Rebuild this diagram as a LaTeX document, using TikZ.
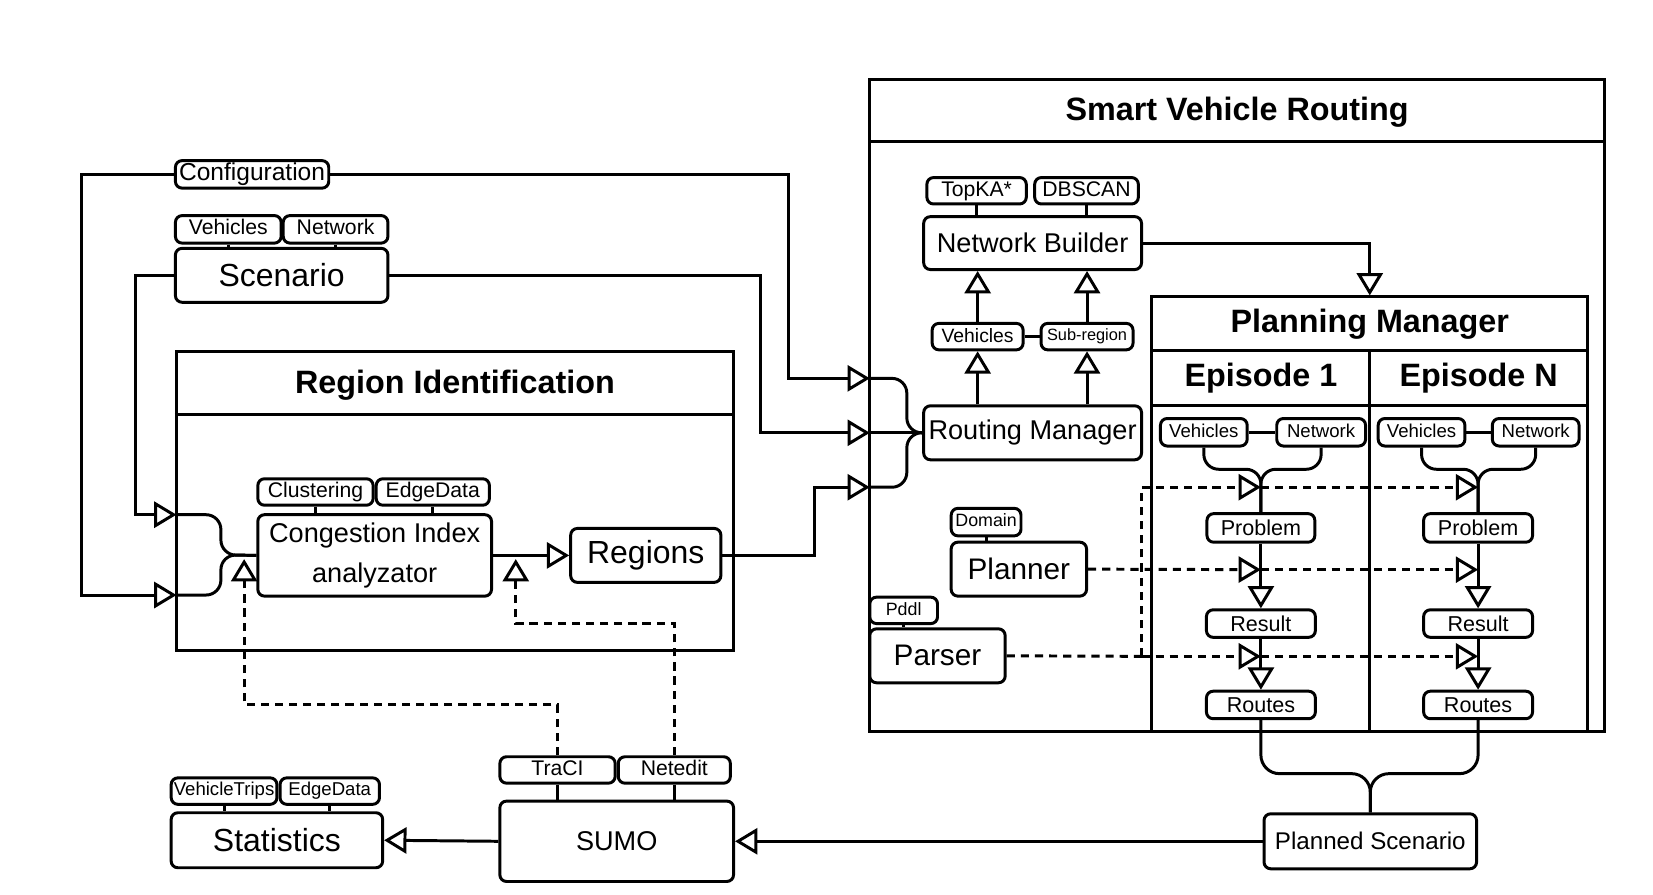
\documentclass[tikz,border=0pt]{standalone}
\usepackage{fontspec}
\setmainfont{Liberation Sans}
\usetikzlibrary{arrows.meta}

\tikzset{
    box/.style={draw, rounded corners=1.8pt, line width=0.8pt, inner sep=0pt, align=center},
    bigbox/.style={box, font=\fontsize{8.6}{10}\selectfont},
    midbox/.style={box, font=\fontsize{7.3}{10.8}\selectfont},
    tagbox/.style={box, font=\fontsize{5.7}{6}\selectfont, text height=4.1pt, text depth=1.2pt},
    smalltag/.style={box, font=\fontsize{5.0}{6}\selectfont, text height=3.6pt, text depth=1.05pt},
    frame/.style={draw, line width=0.8pt, inner sep=0pt},
    title/.style={font=\bfseries\fontsize{8.7}{10}\selectfont},
    link/.style={line width=0.8pt},
    flow/.style={line width=0.8pt, -{Triangle[open, length=6pt, width=7pt]}},
    dflow/.style={flow, dash pattern=on 2.2pt off 1.6pt},
    dlink/.style={link, dash pattern=on 2.2pt off 1.6pt}
}

\begin{document}
\begin{tikzpicture}[x=0.01cm, y=-0.01cm]
    \useasboundingbox (0,0) rectangle (1564,846);

    %% Inputs
    % Configuration
    \node[box, font=\fontsize{6.6}{7}\selectfont, minimum width=1.45cm, minimum height=0.26cm] (conf) at (238.5,165) {Configuration};

    % Scenario
    \node[bigbox, minimum width=2.01cm, minimum height=0.51cm] (scen) at (266.5,260.5) {Scenario};
    \node[tagbox, minimum width=1.00cm, minimum height=0.26cm] (scenveh) at (216,217) {Vehicles};
    \node[tagbox, minimum width=0.99cm, minimum height=0.26cm] (scennet) at (317.5,217) {Network};
    \draw[link] (scenveh.south) -- (scenveh.south |- scen.north);
    \draw[link] (scennet.south) -- (scennet.south |- scen.north);

    %% Region Identification
    \node[frame, minimum width=5.27cm, minimum height=2.82cm] (regid) at (430.5,474) {};
    \draw[link] (regid.west |- 0,392) -- (regid.east |- 0,392);
    \node[title] (regidtitle) at (430.5,364) {Region Identification};

    % Congestion Index analyzator
    \node[midbox, minimum width=2.21cm, minimum height=0.77cm] (cia) at (354.5,525.5) {Congestion Index\\analyzator};
    \node[tagbox, minimum width=1.09cm, minimum height=0.25cm] (clust) at (298.5,465.5) {Clustering};
    \node[tagbox, minimum width=1.07cm, minimum height=0.25cm] (edgedata) at (409.5,465.5) {EdgeData};
    \draw[link] (clust.south) -- (clust.south |- cia.north);
    \draw[link] (edgedata.south) -- (edgedata.south |- cia.north);

    % Regions
    \node[bigbox, minimum width=1.42cm, minimum height=0.51cm] (regions) at (611,525.5) {Regions};
    \draw[flow] (cia.east) -- (regions.west);

    % Entries of Region Identification
    \coordinate (riin1) at (167,487);
    \coordinate (riin2) at (167,563);
    \draw[flow] (conf.west) -| (77,563) -- (riin2);
    \draw[flow] (scen.west) -| (128,487) -- (riin1);
    \draw[link, rounded corners=4pt] (riin1) -- (209,487) -- (209,525) -- (cia.west);
    \draw[link, rounded corners=4pt] (riin2) -- (209,563) -- (209,525) -- (cia.west);

    %% Smart Vehicle Routing
    \node[frame, minimum width=6.95cm, minimum height=6.17cm] (svr) at (1170.5,383.5) {};
    \draw[link] (svr.west |- 0,134) -- (svr.east |- 0,134);
    \node[title] (svrtitle) at (1170.5,106) {Smart Vehicle Routing};

    % Network Builder
    \node[midbox, minimum width=2.06cm, minimum height=0.50cm] (nb) at (977,230) {Network Builder};
    \node[tagbox, minimum width=0.94cm, minimum height=0.25cm] (topka) at (924,180.5) {TopKA*};
    \node[tagbox, minimum width=0.98cm, minimum height=0.25cm] (dbscan) at (1028,180.5) {DBSCAN};
    \draw[link] (topka.south) -- (topka.south |- nb.north);
    \draw[link] (dbscan.south) -- (dbscan.south |- nb.north);

    % Vehicles and Sub-region
    \node[tagbox, font=\fontsize{5.2}{6}\selectfont, minimum width=0.86cm, minimum height=0.25cm] (rveh) at (925,318.5) {Vehicles};
    \node[tagbox, font=\fontsize{4.4}{5}\selectfont, text height=3.2pt, text depth=0.9pt, minimum width=0.87cm, minimum height=0.25cm] (subreg) at (1028.5,318.5) {Sub-region};
    \draw[link] (rveh.east) -- (subreg.west);

    % Routing Manager
    \node[midbox, minimum width=2.06cm, minimum height=0.51cm] (rm) at (977,409.5) {Routing Manager};
    \draw[flow] (rm.north -| rveh.south) -- (rveh.south);
    \draw[flow] (rm.north -| subreg.south) -- (subreg.south);
    \draw[flow] (rveh.north) -- (rveh.north |- nb.south);
    \draw[flow] (subreg.north) -- (subreg.north |- nb.south);

    % Entries of Smart Vehicle Routing
    \coordinate (rmin1) at (823,358);
    \coordinate (rmin2) at (823,409.5);
    \coordinate (rmin3) at (823,461);
    \draw[flow] (conf.east) -| (746,358) -- (rmin1);
    \draw[flow] (scen.east) -| (720,409.5) -- (rmin2);
    \draw[flow] (regions.east) -| (771,461) -- (rmin3);
    \draw[link, rounded corners=4pt] (rmin1) -- (858,358) -- (858,409.5) -- (rm.west);
    \draw[link] (rmin2) -- (rm.west);
    \draw[link, rounded corners=4pt] (rmin3) -- (858,461) -- (858,409.5) -- (rm.west);

    % Planner and Parser
    \node[box, font=\fontsize{8.0}{10}\selectfont, minimum width=1.28cm, minimum height=0.51cm] (planner) at (964,538.5) {Planner};
    \node[smalltag, font=\fontsize{4.8}{6}\selectfont, minimum width=0.66cm, minimum height=0.26cm] (domain) at (933,494) {Domain};
    \draw[link] (domain.south) -- (domain.south |- planner.north);
    \node[box, font=\fontsize{8.0}{10}\selectfont, minimum width=1.28cm, minimum height=0.51cm] (parser) at (887,620.5) {Parser};
    \node[smalltag, font=\fontsize{4.8}{6}\selectfont, minimum width=0.64cm, minimum height=0.25cm] (pddl) at (855,577.5) {Pddl};
    \draw[link] (pddl.south) -- (pddl.south |- parser.north);

    %% Planning Manager
    \node[frame, minimum width=4.12cm, minimum height=4.11cm] (pm) at (1296,486.5) {};
    \draw[link] (pm.west |- 0,332) -- (pm.east |- 0,332);
    \draw[link] (pm.west |- 0,384) -- (pm.east |- 0,384);
    \draw[link] (1296,332) -- (pm.south);
    \node[title] (pmtitle) at (1296,307) {Planning Manager};
    \node[title] (epatitle) at (1193,358) {Episode 1};
    \node[title] (epntitle) at (1399,358) {Episode N};
    \draw[flow] (nb.east) -| (pm.north);

    % Episode 1
    \node[smalltag, minimum width=0.82cm, minimum height=0.26cm] (veha) at (1139,409) {Vehicles};
    \node[smalltag, minimum width=0.84cm, minimum height=0.26cm] (neta) at (1250,409) {Network};
    \node[box, font=\fontsize{5.8}{6}\selectfont, minimum width=1.02cm, minimum height=0.27cm] (proba) at (1193,499.5) {Problem};
    \node[box, font=\fontsize{5.8}{6}\selectfont, minimum width=1.03cm, minimum height=0.26cm] (resa) at (1193,590) {Result};
    \node[box, font=\fontsize{5.8}{6}\selectfont, minimum width=1.03cm, minimum height=0.26cm] (routa) at (1193,667) {Routes};
    \draw[link] (veha.east) -- (neta.west);
    \draw[link, rounded corners=4pt] (veha.south) -- (veha.south |- 0,444) -| (proba.north);
    \draw[link, rounded corners=4pt] (neta.south) -- (neta.south |- 0,444) -| (proba.north);
    \draw[flow] (proba.south) -- (resa.north);
    \draw[flow] (resa.south) -- (routa.north);

    % Episode N
    \node[smalltag, minimum width=0.82cm, minimum height=0.26cm] (vehn) at (1345,409) {Vehicles};
    \node[smalltag, minimum width=0.82cm, minimum height=0.26cm] (netn) at (1453,409) {Network};
    \node[box, font=\fontsize{5.8}{6}\selectfont, minimum width=1.03cm, minimum height=0.27cm] (probn) at (1398.5,499.5) {Problem};
    \node[box, font=\fontsize{5.8}{6}\selectfont, minimum width=1.03cm, minimum height=0.26cm] (resn) at (1398.5,590) {Result};
    \node[box, font=\fontsize{5.8}{6}\selectfont, minimum width=1.03cm, minimum height=0.26cm] (routn) at (1398.5,667) {Routes};
    \draw[link] (vehn.east) -- (netn.west);
    \draw[link, rounded corners=4pt] (vehn.south) -- (vehn.south |- 0,444) -| (probn.north);
    \draw[link, rounded corners=4pt] (netn.south) -- (netn.south |- 0,444) -| (probn.north);
    \draw[flow] (probn.south) -- (resn.north);
    \draw[flow] (resn.south) -- (routn.north);

    % Planner and Parser into the episodes
    \coordinate (epa1) at (1193,461);
    \coordinate (epa2) at (1193,539);
    \coordinate (epa3) at (1193,621);
    \coordinate (epn1) at (1398.5,461);
    \coordinate (epn2) at (1398.5,539);
    \coordinate (epn3) at (1398.5,621);
    \coordinate (split) at (1080,621);
    \draw[dlink] (parser.east) -- (split);
    \draw[dflow] (split) -- (epa3);
    \draw[dflow] (epa3) -- (epn3);
    \draw[dflow] (split) |- (epa1);
    \draw[dflow] (epa1) -- (epn1);
    \draw[dflow] (planner.east) -- (epa2);
    \draw[dflow] (epa2) -- (epn2);

    %% Output
    % Planned Scenario
    \node[box, font=\fontsize{6.5}{7}\selectfont, minimum width=2.01cm, minimum height=0.52cm] (ps) at (1296.5,796) {Planned Scenario};
    \draw[link, rounded corners=5pt] (routa.south) |- (ps.north |- 0,732) -- (ps.north);
    \draw[link, rounded corners=5pt] (routn.south) |- (ps.north |- 0,732) -- (ps.north);

    % SUMO
    \node[box, font=\fontsize{7.3}{9}\selectfont, minimum width=2.21cm, minimum height=0.76cm] (sumo) at (583.5,796) {SUMO};
    \node[tagbox, minimum width=1.09cm, minimum height=0.25cm] (traci) at (527.5,728.5) {TraCI};
    \node[tagbox, minimum width=1.06cm, minimum height=0.25cm] (netedit) at (638,728.5) {Netedit};
    \draw[link] (traci.south) -- (traci.south |- sumo.north);
    \draw[link] (netedit.south) -- (netedit.south |- sumo.north);
    \draw[flow] (ps.west) -- (sumo.east);

    % Statistics
    \node[bigbox, minimum width=2.00cm, minimum height=0.52cm] (stats) at (262,795) {Statistics};
    \node[smalltag, minimum width=1.00cm, minimum height=0.25cm] (vtrips) at (212,748.5) {VehicleTrips};
    \node[smalltag, minimum width=0.94cm, minimum height=0.25cm] (sedge) at (312,748.5) {EdgeData};
    \draw[link] (vtrips.south) -- (vtrips.south |- stats.north);
    \draw[link] (sedge.south) -- (sedge.south |- stats.north);
    \draw[flow] (sumo.west) -- (stats.east);

    % Feedback of SUMO into the analyzer
    \draw[dflow] (traci.north) |- (231,667) -- (231,529);
    \draw[dflow] (netedit.north) |- (488,590) -- (488,529);

\end{tikzpicture}
\end{document}
